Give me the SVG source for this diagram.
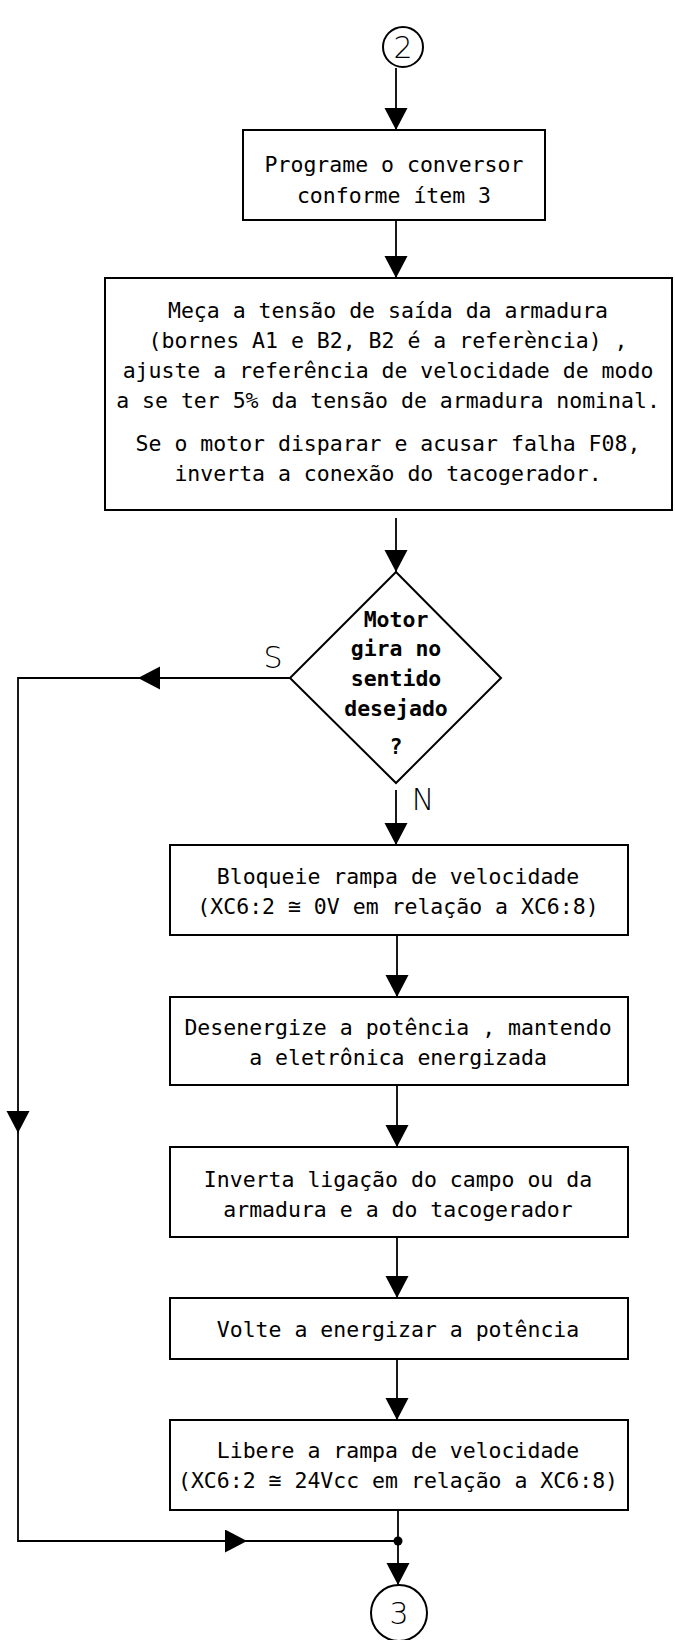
<svg xmlns="http://www.w3.org/2000/svg" width="675" height="1640" viewBox="0 0 675 1640">
<style>
.box{fill:#fff;stroke:#000;stroke-width:2}
.t{font-family:"DejaVu Sans Mono","Liberation Mono",monospace;font-size:21.5px;text-anchor:middle;fill:#000}
.b{font-weight:bold}
.lbl{font-family:"DejaVu Sans","Liberation Sans",sans-serif;font-size:30px;font-weight:300;fill:#000}
.ln{stroke:#000;stroke-width:1.8;fill:none}
.arr{marker-end:url(#ah)}
</style>
<defs>
<marker id="ah" markerUnits="userSpaceOnUse" markerWidth="23" markerHeight="24" refX="22" refY="11.5" orient="auto">
<path d="M0,0 L22,11.5 L0,23 Z" fill="#000"/>
</marker>
</defs>
<rect width="675" height="1640" fill="#fff"/>
<g id="connectors">
<path class="ln arr" d="M396,68 V130"/>
<path class="ln arr" d="M396,220 V278"/>
<path class="ln arr" d="M396,518 V572"/>
<path class="ln arr" d="M396,790 V845"/>
<path class="ln arr" d="M397,935 V997"/>
<path class="ln arr" d="M397,1085 V1147"/>
<path class="ln arr" d="M397,1237 V1298"/>
<path class="ln arr" d="M397,1359 V1420"/>
<path class="ln arr" d="M398,1510 V1585"/>
<path class="ln arr" d="M290,678 H138"/>
<path class="ln arr" d="M140,678 H18 V1133"/>
<path class="ln arr" d="M18,1130 V1541 H247"/>
<path class="ln" d="M245,1541 H398"/>
<circle cx="398" cy="1541" r="4.5" fill="#000"/>
<text class="lbl" x="273" y="668" text-anchor="middle">S</text>
<text class="lbl" x="423" y="810" text-anchor="middle">N</text>
</g>
<g id="start">
<circle class="box" cx="403" cy="47" r="20"/>
<text class="lbl" x="403" y="58" text-anchor="middle">2</text>
</g>
<g id="step1">
<rect class="box" x="243" y="130" width="302" height="90"/>
<text class="t" x="394" y="172">Programe o conversor</text>
<text class="t" x="394" y="203">conforme ítem 3</text>
</g>
<g id="step2">
<rect class="box" x="105" y="278" width="567" height="232"/>
<text class="t" x="388" y="318">Meça a tensão de saída da armadura</text>
<text class="t" x="388" y="348">(bornes A1 e B2, B2 é a referència) ,</text>
<text class="t" x="388" y="378">ajuste a referência de velocidade de modo</text>
<text class="t" x="388" y="408">a se ter 5% da tensão de armadura nominal.</text>
<text class="t" x="388" y="451">Se o motor disparar e acusar falha F08,</text>
<text class="t" x="388" y="481">inverta a conexão do tacogerador.</text>
</g>
<g id="decision">
<polygon class="box" points="396,572 501,678 396,783 290,678"/>
<text class="t b" x="396" y="627">Motor</text>
<text class="t b" x="396" y="656">gira no</text>
<text class="t b" x="396" y="686">sentido</text>
<text class="t b" x="396" y="716">desejado</text>
<text class="t b" x="396" y="754">?</text>
</g>
<g id="step3">
<rect class="box" x="170" y="845" width="458" height="90"/>
<text class="t" x="398" y="884">Bloqueie rampa de velocidade</text>
<text class="t" x="398" y="914">(XC6:2 ≅ 0V em relação a XC6:8)</text>
</g>
<g id="step4">
<rect class="box" x="170" y="997" width="458" height="88"/>
<text class="t" x="398" y="1035">Desenergize a potência , mantendo</text>
<text class="t" x="398" y="1065">a eletrônica energizada</text>
</g>
<g id="step5">
<rect class="box" x="170" y="1147" width="458" height="90"/>
<text class="t" x="398" y="1187">Inverta ligação do campo ou da</text>
<text class="t" x="398" y="1217">armadura e a do tacogerador</text>
</g>
<g id="step6">
<rect class="box" x="170" y="1298" width="458" height="61"/>
<text class="t" x="398" y="1337">Volte a energizar a potência</text>
</g>
<g id="step7">
<rect class="box" x="170" y="1420" width="458" height="90"/>
<text class="t" x="398" y="1458">Libere a rampa de velocidade</text>
<text class="t" x="398" y="1488">(XC6:2 ≅ 24Vcc em relação a XC6:8)</text>
</g>
<g id="end">
<circle class="box" cx="399" cy="1613" r="28"/>
<text class="lbl" x="399" y="1624" text-anchor="middle">3</text>
</g>
</svg>
